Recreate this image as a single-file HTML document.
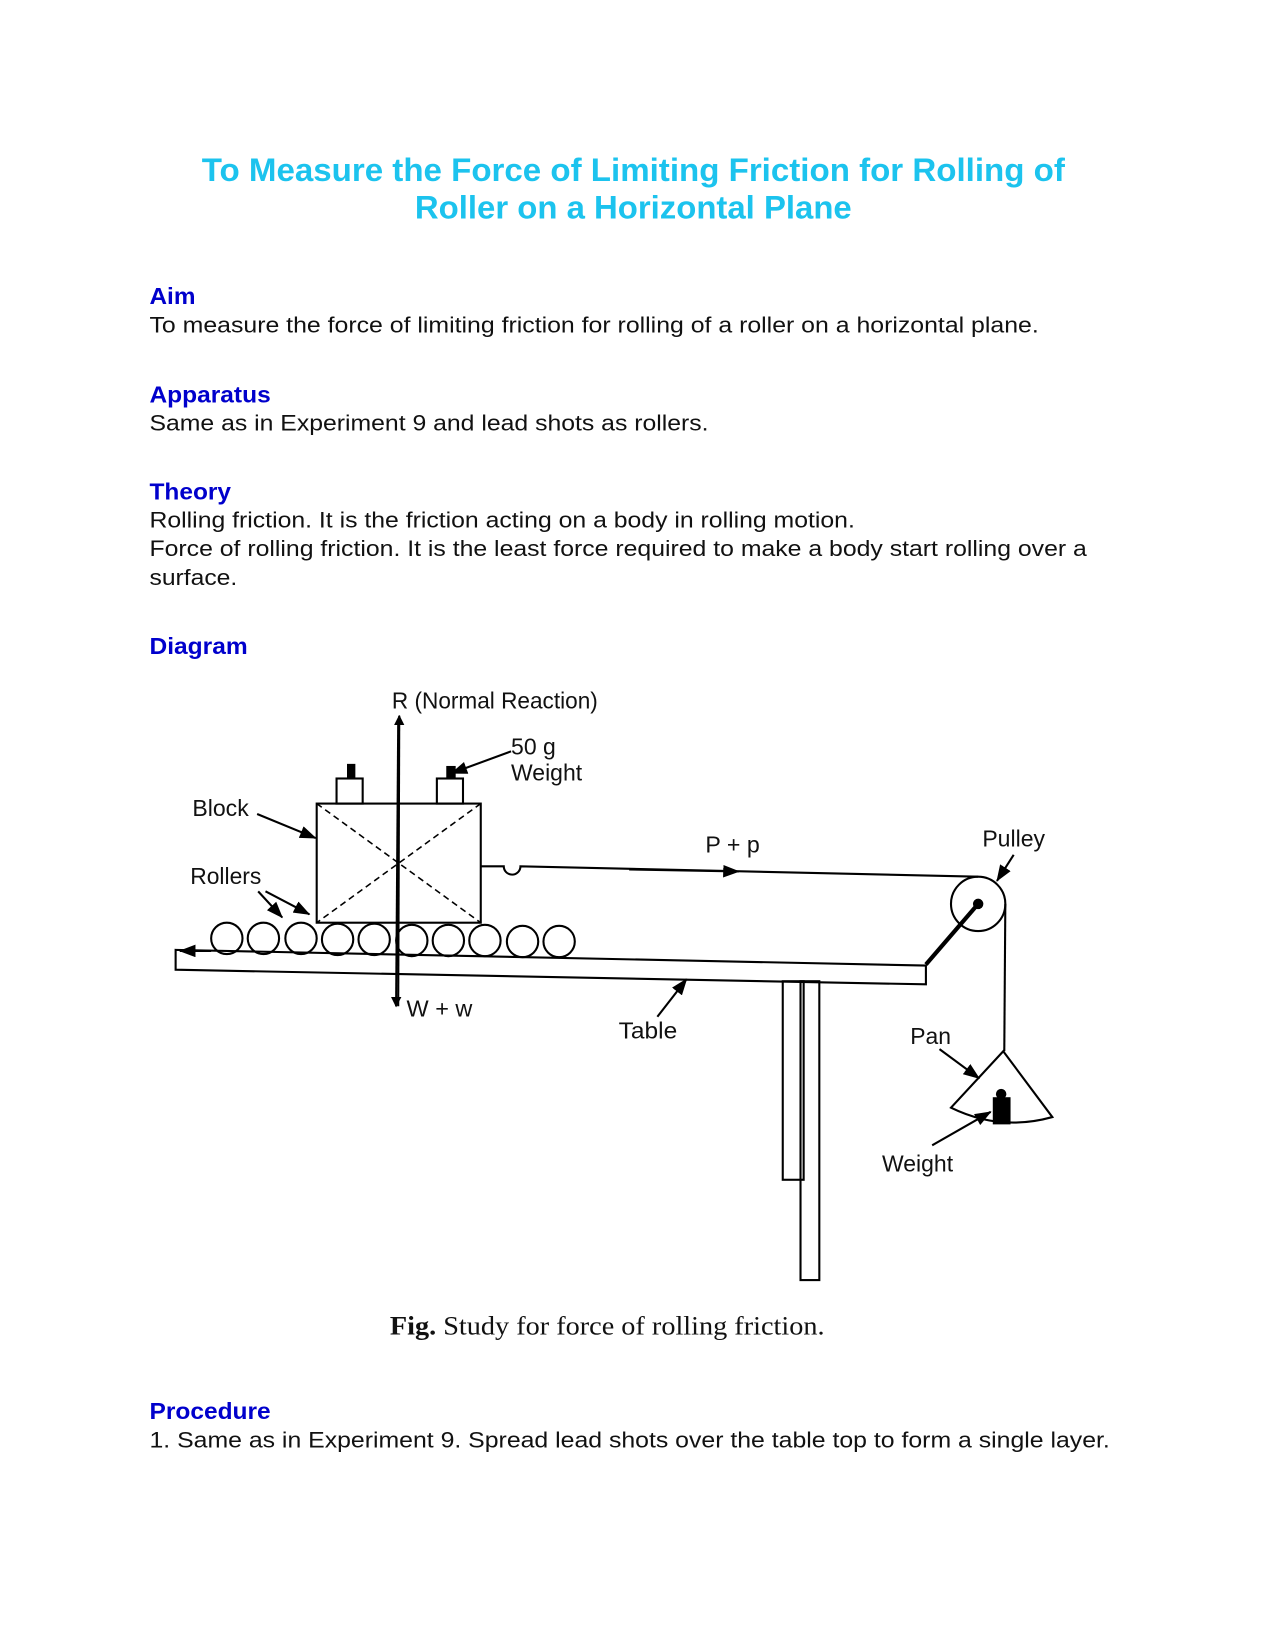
<!DOCTYPE html>
<html><head><meta charset="utf-8"><style>
html,body{margin:0;padding:0;background:#fff;}
svg{display:block;}
</style></head><body>
<svg width="1275" height="1650" viewBox="0 0 1220 1579" xmlns="http://www.w3.org/2000/svg" font-family="Liberation Sans, sans-serif">
<defs>
<marker id="ah" markerWidth="10" markerHeight="10" refX="9" refY="5" orient="auto" markerUnits="userSpaceOnUse"><path d="M0,0 L10,5 L0,10 z" fill="#000"/></marker>
<marker id="ah2" markerWidth="16" markerHeight="12" refX="15" refY="6" orient="auto" markerUnits="userSpaceOnUse"><path d="M0,0 L16,6 L0,12 z" fill="#000"/></marker>
</defs>
<g transform="translate(3,3)">
<g fill="#1cc3ee" font-weight="bold" font-size="31" text-anchor="middle">
<text x="603" y="170" textLength="826" lengthAdjust="spacingAndGlyphs">To Measure the Force of Limiting Friction for Rolling of</text>
<text x="603" y="206" textLength="418" lengthAdjust="spacingAndGlyphs">Roller on a Horizontal Plane</text>
</g>
<g fill="#0000cc" font-weight="bold" font-size="22">
<text x="140" y="288" textLength="44" lengthAdjust="spacingAndGlyphs">Aim</text>
<text x="140" y="382" textLength="116" lengthAdjust="spacingAndGlyphs">Apparatus</text>
<text x="140" y="475" textLength="78" lengthAdjust="spacingAndGlyphs">Theory</text>
<text x="140" y="623" textLength="94" lengthAdjust="spacingAndGlyphs">Diagram</text>
<text x="140" y="1355" textLength="116" lengthAdjust="spacingAndGlyphs">Procedure</text>
</g>
<g fill="#111" font-size="21" lengthAdjust="spacingAndGlyphs">
<text x="140" y="315" textLength="851" lengthAdjust="spacingAndGlyphs">To measure the force of limiting friction for rolling of a roller on a horizontal plane.</text>
<text x="140" y="409" textLength="535" lengthAdjust="spacingAndGlyphs">Same as in Experiment 9 and lead shots as rollers.</text>
<text x="140" y="502" textLength="675" lengthAdjust="spacingAndGlyphs">Rolling friction. It is the friction acting on a body in rolling motion.</text>
<text x="140" y="529" textLength="897" lengthAdjust="spacingAndGlyphs">Force of rolling friction. It is the least force required to make a body start rolling over a</text>
<text x="140" y="557" textLength="84" lengthAdjust="spacingAndGlyphs">surface.</text>
<text x="140" y="1382" textLength="919" lengthAdjust="spacingAndGlyphs">1. Same as in Experiment 9. Spread lead shots over the table top to form a single layer.</text>
</g>
</g>
<g transform="translate(2,3)">
<g stroke="#000" stroke-width="2" fill="none">
<line x1="379" y1="690" x2="377" y2="960" marker-end="url(#ah)"/>
<line x1="379" y1="960" x2="380" y2="682" marker-end="url(#ah)"/>
<rect x="301" y="766" width="157" height="114"/>
<line x1="301" y1="766" x2="458" y2="880" stroke-dasharray="6,4" stroke-width="1.5"/>
<line x1="458" y1="766" x2="301" y2="880" stroke-dasharray="6,4" stroke-width="1.5"/>
<rect x="320" y="742" width="25" height="24"/>
<rect x="416" y="742" width="25" height="24"/>
<line x1="487" y1="716" x2="430" y2="737" marker-end="url(#ah2)"/>
<line x1="244" y1="776" x2="300" y2="799" marker-end="url(#ah2)"/>
<line x1="245" y1="850" x2="268" y2="875" marker-end="url(#ah2)"/>
<line x1="252" y1="850" x2="294" y2="872" marker-end="url(#ah2)"/>
<path d="M458,826 L480,826 A8,8 0 0 0 496,826 L934,836"/>
<line x1="600" y1="829" x2="705" y2="831" marker-end="url(#ah2)"/>
<circle cx="215" cy="895" r="15"/><circle cx="250" cy="895" r="15"/><circle cx="286" cy="895" r="15"/>
<circle cx="321" cy="896" r="15"/><circle cx="356" cy="896" r="15"/><circle cx="392" cy="897" r="15"/>
<circle cx="427" cy="897" r="15"/><circle cx="462" cy="897" r="15"/><circle cx="498" cy="898" r="15"/>
<circle cx="533" cy="898" r="15"/>
<path d="M166,906 L884,921 L884,939 L166,925 Z"/>
<line x1="200" y1="907" x2="170" y2="907" marker-end="url(#ah2)"/>
<line x1="884" y1="920" x2="934" y2="862" stroke-width="4"/>
<circle cx="934" cy="862" r="26"/>
<line x1="960" y1="862" x2="959" y2="1003"/>
<rect x="747" y="936" width="20" height="190"/>
<rect x="764" y="936" width="18" height="286"/>
<line x1="627" y1="970" x2="655" y2="934" marker-end="url(#ah2)"/>
<line x1="968" y1="815" x2="952" y2="840" marker-end="url(#ah2)"/>
<path d="M958,1003 L908,1057 Q955,1080 1005,1066 Z"/>
<line x1="897" y1="1001" x2="935" y2="1029" marker-end="url(#ah2)"/>
<line x1="890" y1="1093" x2="946" y2="1061" marker-end="url(#ah2)"/>
</g>
<g fill="#000">
<rect x="330" y="728" width="8" height="14"/>
<rect x="425" y="730" width="9" height="12"/>
<circle cx="934" cy="862" r="5"/>
<rect x="948" y="1047" width="17" height="26"/>
<circle cx="956" cy="1044" r="5"/>
</g>
<g fill="#111" font-size="22">
<text x="373" y="675" textLength="197" lengthAdjust="spacingAndGlyphs">R (Normal Reaction)</text>
<text x="487" y="719">50 g</text>
<text x="487" y="744" textLength="68" lengthAdjust="spacingAndGlyphs">Weight</text>
<text x="182" y="778" textLength="54" lengthAdjust="spacingAndGlyphs">Block</text>
<text x="180" y="843" textLength="68" lengthAdjust="spacingAndGlyphs">Rollers</text>
<text x="673" y="813" textLength="52" lengthAdjust="spacingAndGlyphs">P + p</text>
<text x="938" y="807" textLength="60" lengthAdjust="spacingAndGlyphs">Pulley</text>
<text x="387" y="970" textLength="63" lengthAdjust="spacingAndGlyphs">W + w</text>
<text x="590" y="991" textLength="56" lengthAdjust="spacingAndGlyphs">Table</text>
<text x="869" y="996" textLength="39" lengthAdjust="spacingAndGlyphs">Pan</text>
<text x="842" y="1118" textLength="68" lengthAdjust="spacingAndGlyphs">Weight</text>
</g>
<text x="371" y="1274" font-family="Liberation Serif, serif" font-size="25" fill="#111" textLength="416" lengthAdjust="spacingAndGlyphs"><tspan font-weight="bold">Fig.</tspan> Study for force of rolling friction.</text>
</g>
</svg>
</body></html>
